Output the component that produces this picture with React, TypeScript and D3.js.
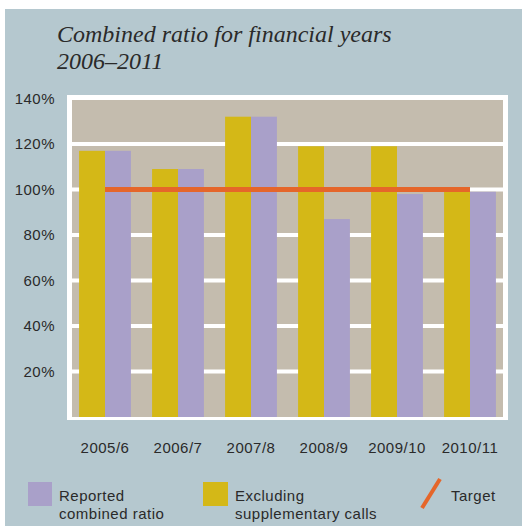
import React from "react";
import * as d3 from "d3";

const years = ["2005/6", "2006/7", "2007/8", "2008/9", "2009/10", "2010/11"];
const excluding = [117, 109, 132, 119, 119, 100];
const reported = [117, 109, 132, 87, 98, 99];
const target = 100;
const yTicks = [20, 40, 60, 80, 100, 120, 140];
const seriesKeys = ["excluding", "reported"];

const W = 522;
const H = 526;
const BG = "#b5c8cf";
const BEIGE = "#c4bcae";
const YELLOW = "#d4b817";
const PURPLE = "#a9a0c9";
const ORANGE = "#e5662a";
const TEXT = "#2a2a2a";
const SANS = "'Liberation Sans', Arial, Helvetica, sans-serif";
const SERIF = "'Liberation Serif', 'Times New Roman', serif";

export default function App() {
  const y = d3.scaleLinear().domain([0, 140]).range([417, 98.5]);
  const x0 = d3
    .scaleBand<string>()
    .domain(years)
    .range([68.5, 506.5])
    .paddingInner(0.29)
    .paddingOuter(0.145);
  const x1 = d3
    .scaleBand<string>()
    .domain(seriesKeys)
    .range([0, x0.bandwidth()])
    .padding(0);
  const colors: Record<string, string> = { excluding: YELLOW, reported: PURPLE };
  const vals: Record<string, number[]> = { excluding, reported };

  const frame = { x0: 67, x1: 508, y0: 95, y1: 420 };
  const inner = { x0: 72, x1: 503, y0: 100, y1: 417 };
  const tx0 = (x0(years[0]) as number) + x0.bandwidth() / 2;
  const tx1 = (x0(years[years.length - 1]) as number) + x0.bandwidth() / 2;

  return (
    <svg
      width={W}
      height={H}
      style={{ position: "absolute", left: 0, top: 0 }}
      xmlns="http://www.w3.org/2000/svg"
    >
      <rect x={0} y={0} width={W} height={H} fill="#ffffff" />
      <rect x={5} y={9} width={W - 5} height={H - 9} fill={BG} />
      <text
        x={57}
        y={42}
        fontFamily={SERIF}
        fontStyle="italic"
        fontSize={24}
        fill={TEXT}
      >
        Combined ratio for financial years
      </text>
      <text
        x={57}
        y={69}
        fontFamily={SERIF}
        fontStyle="italic"
        fontSize={24}
        fill={TEXT}
      >
        2006–2011
      </text>

      {/* frame */}
      <rect
        x={frame.x0}
        y={frame.y0}
        width={frame.x1 - frame.x0}
        height={frame.y1 - frame.y0}
        fill="#ffffff"
      />
      <rect
        x={inner.x0}
        y={inner.y0}
        width={inner.x1 - inner.x0}
        height={inner.y1 - inner.y0}
        fill={BEIGE}
      />
      {yTicks
        .filter((t) => t < 140)
        .map((t) => (
          <line
            key={"g" + t}
            x1={inner.x0}
            x2={inner.x1}
            y1={y(t)}
            y2={y(t)}
            stroke="#ffffff"
            strokeWidth={4}
          />
        ))}

      {years.map((yr, i) => (
        <g key={yr} transform={`translate(${x0(yr)},0)`}>
          {seriesKeys.map((k) => (
            <rect
              key={k}
              x={x1(k)}
              y={y(vals[k][i])}
              width={x1.bandwidth()}
              height={y(0) - y(vals[k][i])}
              fill={colors[k]}
            />
          ))}
        </g>
      ))}

      <line
        x1={tx0}
        x2={tx1}
        y1={y(target)}
        y2={y(target)}
        stroke={ORANGE}
        strokeWidth={5}
      />

      {yTicks.map((t) => (
        <text
          key={"yl" + t}
          x={55}
          y={y(t) + 5}
          textAnchor="end"
          fontFamily={SANS}
          fontSize={15}
          letterSpacing={0.5}
          fill={TEXT}
        >
          {t}%
        </text>
      ))}

      {years.map((yr) => (
        <text
          key={"xl" + yr}
          x={(x0(yr) as number) + x0.bandwidth() / 2}
          y={453}
          textAnchor="middle"
          fontFamily={SANS}
          fontSize={15}
          letterSpacing={0.5}
          fill={TEXT}
        >
          {yr}
        </text>
      ))}

      {/* legend */}
      <rect x={28} y={482} width={24} height={24} fill={PURPLE} />
      <text x={59} y={501} fontFamily={SANS} fontSize={15} letterSpacing={0.5} fill={TEXT}>
        Reported
      </text>
      <text x={59} y={519} fontFamily={SANS} fontSize={15} letterSpacing={0.5} fill={TEXT}>
        combined ratio
      </text>
      <rect x={203} y={482} width={25} height={24} fill={YELLOW} />
      <text x={235} y={501} fontFamily={SANS} fontSize={15} letterSpacing={0.5} fill={TEXT}>
        Excluding
      </text>
      <text x={235} y={519} fontFamily={SANS} fontSize={15} letterSpacing={0.5} fill={TEXT}>
        supplementary calls
      </text>
      <line x1={422} y1={508} x2={440} y2={479} stroke={ORANGE} strokeWidth={4} />
      <text x={451} y={501} fontFamily={SANS} fontSize={15} letterSpacing={0.5} fill={TEXT}>
        Target
      </text>
    </svg>
  );
}
